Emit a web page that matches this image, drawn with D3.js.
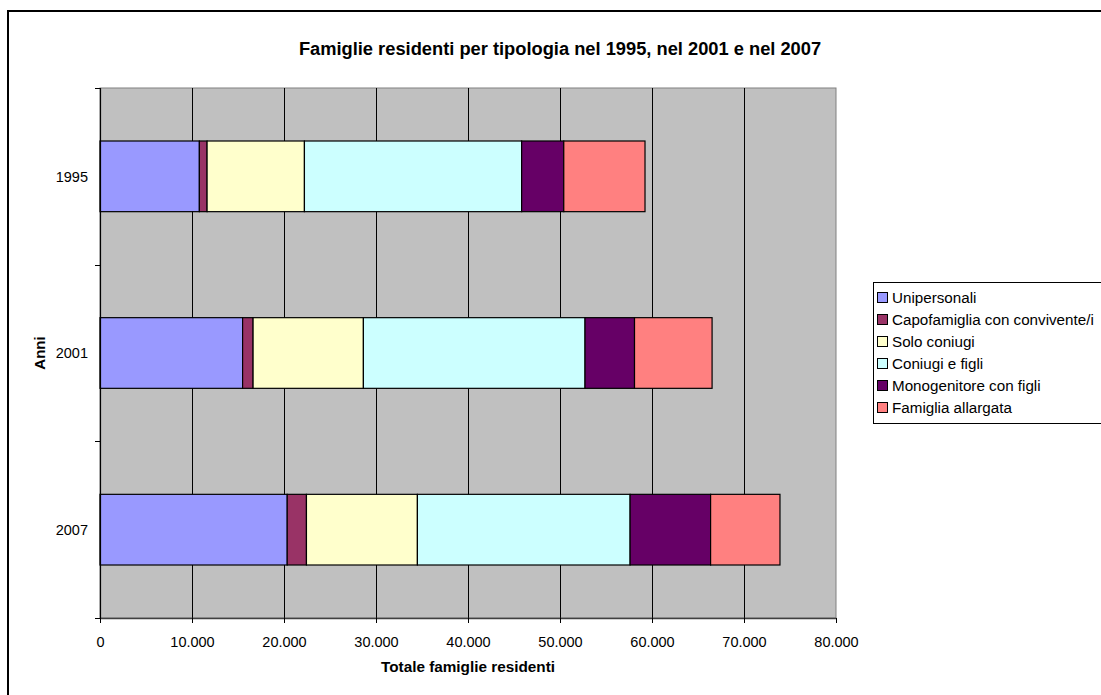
<!DOCTYPE html>
<html>
<head>
<meta charset="utf-8">
<script src="https://cdn.jsdelivr.net/npm/d3@7"></script>
<style>
  body { margin: 0; background: #fff; }
  svg { display: block; font-family: "Liberation Sans", Arial, sans-serif; }
</style>
</head>
<body>
<div id="chart"></div>
<script>
// data
const years = ["1995", "2001", "2007"];
const seriesNames = [
  "Unipersonali",
  "Capofamiglia con convivente/i",
  "Solo coniugi",
  "Coniugi e figli",
  "Monogenitore con figli",
  "Famiglia allargata",
];
const unipersonali = [10800, 15500, 20350];
const capofamiglia = [840, 1140, 2090];
const soloConiugi = [10580, 11990, 12060];
const coniugiFigli = [23610, 24090, 23120];
const monogenitore = [4580, 5380, 8750];
const allargata = [8830, 8430, 7540];
const xTicks = [0, 10000, 20000, 30000, 40000, 50000, 60000, 70000, 80000];

const colors = ["#9999FF", "#993366", "#FFFFCC", "#CCFFFF", "#660066", "#FF8080"];

const W = 1101, H = 695;
const plot = { left: 100, top: 88, right: 836, bottom: 618 };

const itLocale = d3.formatLocale({ decimal: ",", thousands: ".", grouping: [3], currency: ["€", ""] });
const fmt = itLocale.format(",d");

const rows = years.map((y, i) => ({
  year: y,
  Unipersonali: unipersonali[i],
  "Capofamiglia con convivente/i": capofamiglia[i],
  "Solo coniugi": soloConiugi[i],
  "Coniugi e figli": coniugiFigli[i],
  "Monogenitore con figli": monogenitore[i],
  "Famiglia allargata": allargata[i],
}));
const stacked = d3.stack().keys(seriesNames)(rows);

const svg = d3.select("#chart").append("svg").attr("width", W).attr("height", H);

// outer frame (right and bottom edges fall outside the picture)
svg.append("rect")
  .attr("x", 8).attr("y", 11).attr("width", W).attr("height", H)
  .attr("fill", "#fff").attr("stroke", "#000").attr("stroke-width", 2);

const x = d3.scaleLinear().domain([0, 80000]).range([plot.left, plot.right]);
const y = d3.scaleBand().domain(years).range([plot.top, plot.bottom]).paddingInner(0.6).paddingOuter(0.3);

// plot background
svg.append("rect")
  .attr("x", plot.left).attr("y", plot.top)
  .attr("width", plot.right - plot.left).attr("height", plot.bottom - plot.top)
  .attr("fill", "#C0C0C0").attr("stroke", "#808080").attr("stroke-width", 1);

// vertical gridlines
svg.append("g")
  .selectAll("line")
  .data(xTicks.slice(1, -1))
  .enter()
  .append("line")
  .attr("x1", (d) => Math.round(x(d)) + 0.5)
  .attr("x2", (d) => Math.round(x(d)) + 0.5)
  .attr("y1", plot.top)
  .attr("y2", plot.bottom)
  .attr("stroke", "#000")
  .attr("stroke-width", 1);

// bars
svg.append("g")
  .selectAll("g")
  .data(stacked)
  .enter()
  .append("g")
  .attr("fill", (d, i) => colors[i])
  .selectAll("rect")
  .data((d) => d)
  .enter()
  .append("rect")
  .attr("x", (d) => x(d[0]))
  .attr("y", (d) => y(d.data.year))
  .attr("width", (d) => x(d[1]) - x(d[0]))
  .attr("height", y.bandwidth())
  .attr("stroke", "#000")
  .attr("stroke-width", 1.2);

// x axis
const xAxis = svg.append("g")
  .attr("transform", `translate(0,${plot.bottom})`)
  .call(d3.axisBottom(x).tickValues(xTicks).tickFormat((d) => fmt(d)).tickSize(5).tickSizeOuter(0));
xAxis.select(".domain").attr("stroke", "#404040").attr("stroke-width", 1.5);
xAxis.selectAll(".tick line").attr("stroke", "#000");
xAxis.selectAll(".tick text")
  .attr("font-size", 14.5).attr("fill", "#000")
  .attr("y", 29).attr("dy", 0)
  .attr("font-family", "Liberation Sans, Arial, sans-serif");

// y axis: ticks at band boundaries, labels centered in bands
const boundaries = d3.range(years.length + 1).map((i) => plot.top + i * (plot.bottom - plot.top) / years.length);
const yAxis = svg.append("g");
yAxis.append("line")
  .attr("x1", plot.left + 0.5).attr("x2", plot.left + 0.5)
  .attr("y1", plot.top).attr("y2", plot.bottom)
  .attr("stroke", "#000").attr("stroke-width", 1.2);
yAxis.selectAll(".ytick")
  .data(boundaries)
  .enter()
  .append("line")
  .attr("class", "ytick")
  .attr("x1", plot.left - 5).attr("x2", plot.left)
  .attr("y1", (d) => Math.round(d) + 0.5).attr("y2", (d) => Math.round(d) + 0.5)
  .attr("stroke", "#000");
yAxis.selectAll("text")
  .data(years)
  .enter()
  .append("text")
  .attr("x", plot.left - 12)
  .attr("y", (d) => y(d) + y.bandwidth() / 2)
  .attr("dy", "0.36em")
  .attr("text-anchor", "end")
  .attr("font-size", 14.5)
  .text((d) => d);

// titles
svg.append("text")
  .attr("x", 560).attr("y", 55)
  .attr("text-anchor", "middle")
  .attr("font-size", 18.3).attr("font-weight", "bold")
  .text("Famiglie residenti per tipologia nel 1995, nel 2001 e nel 2007");

svg.append("text")
  .attr("x", 468).attr("y", 672)
  .attr("text-anchor", "middle")
  .attr("font-size", 15.3).attr("font-weight", "bold")
  .text("Totale famiglie residenti");

svg.append("text")
  .attr("transform", `translate(45,${(plot.top + plot.bottom) / 2}) rotate(-90)`)
  .attr("text-anchor", "middle")
  .attr("font-size", 15).attr("font-weight", "bold")
  .text("Anni");

// legend
const legend = svg.append("g").attr("transform", "translate(873,282)");
legend.append("rect")
  .attr("x", 0.5).attr("y", 0.5).attr("width", 240).attr("height", 141)
  .attr("fill", "#fff").attr("stroke", "#000").attr("stroke-width", 1);
const item = legend.selectAll(".item")
  .data(seriesNames)
  .enter()
  .append("g")
  .attr("class", "item")
  .attr("transform", (d, i) => `translate(0,${16 + i * 22})`);
item.append("rect")
  .attr("x", 4.5).attr("y", -5.5).attr("width", 10).attr("height", 10)
  .attr("fill", (d, i) => colors[i]).attr("stroke", "#000");
item.append("text")
  .attr("x", 19).attr("y", 0).attr("dy", "0.36em")
  .attr("font-size", 15.2)
  .text((d) => d);
</script>
</body>
</html>
